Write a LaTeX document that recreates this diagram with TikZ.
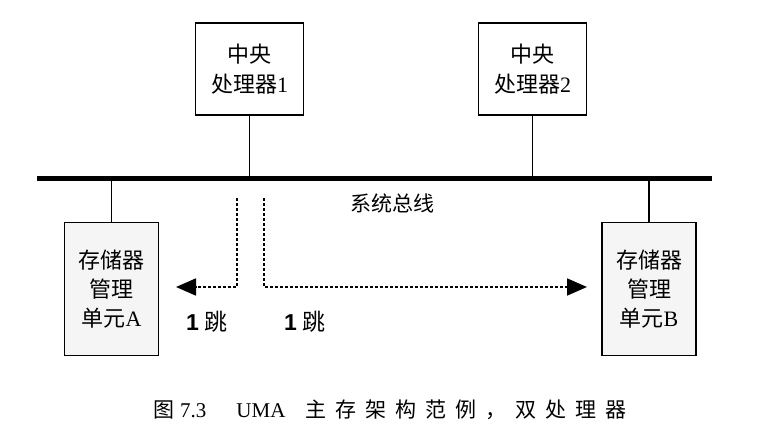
\documentclass[tikz,border=0pt]{standalone}
\usepackage{fontspec}
\setmainfont{Liberation Serif}
\newfontfamily\cjk{Noto Sans CJK SC}
\newfontfamily\sansb{Liberation Sans}
\usetikzlibrary{arrows.meta}
\newcommand{\csp}{\hspace{9pt}}
\begin{document}
\begin{tikzpicture}[x=1pt,y=-1pt,
  box/.style={draw,line width=1.6pt,align=center,inner sep=0pt,font=\fontsize{22}{30}\selectfont},
  cpubox/.style={box,fill=white,minimum width=108pt,minimum height=92pt},
  membox/.style={box,fill=gray!8,minimum width=94pt,minimum height=133pt,font=\fontsize{22}{29}\selectfont},
  link/.style={line width=1.3pt},
  bus/.style={line width=5pt},
  hop/.style={line width=1.8pt,dash pattern=on 3pt off 2pt,-{Triangle[length=20pt,width=17pt]}},
  lbl/.style={inner sep=0pt,font=\fontsize{21}{24}\selectfont}]
\useasboundingbox (0,0) rectangle (777,439);
% bus
\coordinate (busL) at (37,178);
\coordinate (busR) at (712,178);
\draw[bus] (busL) -- (busR);
\node[lbl] (buslbl) at (392,203) {\cjk 系统总线};
% processors
\node[cpubox] (cpu1) at (249.5,69) {{\cjk 中央}\\{\cjk 处理器}1};
\node[cpubox] (cpu2) at (532.5,69) {{\cjk 中央}\\{\cjk 处理器}2};
% memory units
\node[membox] (memA) at (111.5,289) {{\cjk 存储器}\\{\cjk 管理}\\{\cjk 单元}A};
\node[membox] (memB) at (649,289) {{\cjk 存储器}\\{\cjk 管理}\\{\cjk 单元}B};
% links to bus
\draw[link] (cpu1.south) -- (cpu1.south |- busL);
\draw[link] (cpu2.south) -- (cpu2.south |- busL);
\draw[link] (memA.north) -- (memA.north |- busL);
\draw[link] (memB.north) -- (memB.north |- busL);
% hops
\coordinate (hA0) at (237,198);
\coordinate (hA1) at (237,287);
\coordinate (hA2) at (176,287);
\coordinate (hB0) at (264,198);
\coordinate (hB1) at (264,287);
\coordinate (hB2) at (587,287);
\draw[hop] (hA0) -- (hA1) -- (hA2);
\draw[hop] (hB0) -- (hB1) -- (hB2);
\node[lbl,font=\fontsize{23}{26}\selectfont] (hopA) at (207,322) {{\sansb\bfseries 1} {\cjk 跳}};
\node[lbl,font=\fontsize{23}{26}\selectfont] (hopB) at (305,322) {{\sansb\bfseries 1} {\cjk 跳}};
% caption
\node[lbl,anchor=west] (cap) at (153,410) {{\cjk 图}\hspace{6pt}7.3\hspace{30pt}UMA\hspace{20pt}{\cjk 主\csp 存\csp 架\csp 构\csp 范\csp 例\csp ，\csp 双\csp 处\csp 理\csp 器}};
\end{tikzpicture}
\end{document}
